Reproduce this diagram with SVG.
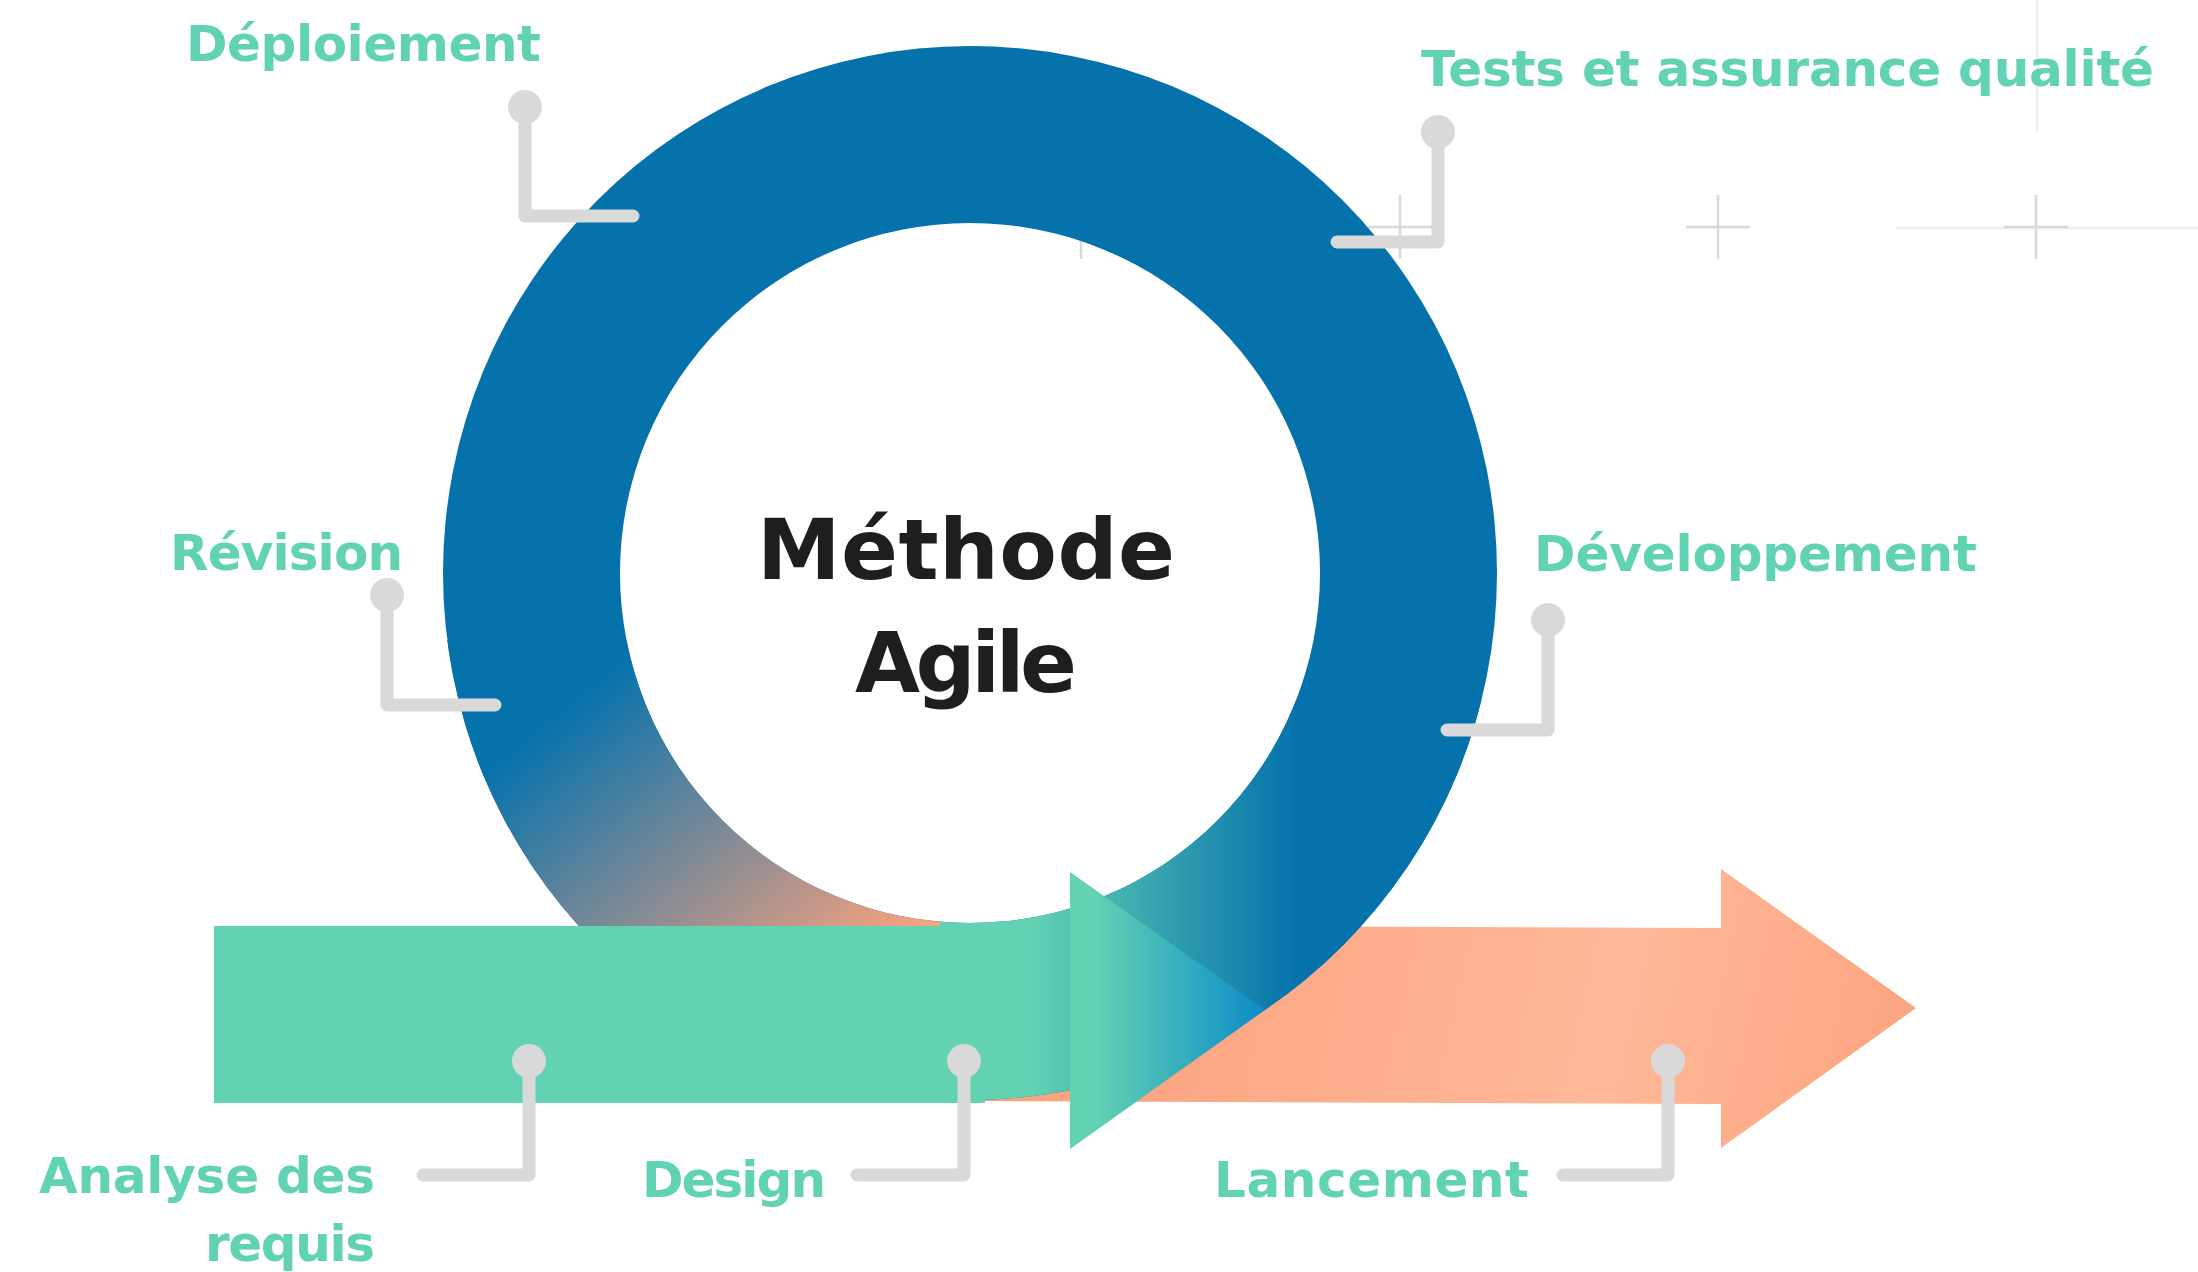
<svg xmlns="http://www.w3.org/2000/svg" width="2198" height="1272" viewBox="0 0 2198 1272">
<style>
.lbl{font-family:"DejaVu Sans","Liberation Sans",sans-serif;font-weight:bold;font-size:50px;fill:#62D3B2}
.ttl{font-family:"DejaVu Sans","Liberation Sans",sans-serif;font-weight:bold;font-size:84px;fill:#1E1E1E}
.cl{fill:none;stroke:#D9D9D9;stroke-width:13;stroke-linecap:round;stroke-linejoin:round}
.dot{fill:#D9D9D9}
.cross{stroke:#D9D9D9;stroke-width:2.5;fill:none}
.faint{stroke:#F1F1F1;stroke-width:3;fill:none}
</style>
<defs>
<linearGradient id="gSalmon" gradientUnits="userSpaceOnUse" x1="533" y1="733" x2="783" y2="1041">
<stop offset="0" stop-color="#0572AC"/><stop offset="1" stop-color="#F9A27E"/>
</linearGradient>
<linearGradient id="gTeal" gradientUnits="userSpaceOnUse" x1="1030" y1="0" x2="1295" y2="0">
<stop offset="0" stop-color="#62D2B2"/><stop offset="1" stop-color="#0572AC"/>
</linearGradient>
<linearGradient id="gTri" gradientUnits="userSpaceOnUse" x1="1095" y1="0" x2="1265" y2="0">
<stop offset="0" stop-color="#62D2B2"/><stop offset="1" stop-color="#0B8CC8"/>
</linearGradient>
<linearGradient id="gOrange" gradientUnits="userSpaceOnUse" x1="1150" y1="930" x2="1916" y2="1100">
<stop offset="0" stop-color="#FCA480"/><stop offset="0.6" stop-color="#FFB999"/><stop offset="1" stop-color="#FCA37F"/>
</linearGradient>
<clipPath id="cLeft"><rect x="0" y="640" width="940" height="660"/></clipPath>
<clipPath id="cRight"><rect x="940" y="700" width="700" height="600"/></clipPath>
<path id="ring" fill-rule="evenodd" d="M443,573a527,527 0 1,0 1054,0a527,527 0 1,0 -1054,0ZM620,573a350,350 0 1,0 700,0a350,350 0 1,0 -700,0Z"/>
</defs>

<g id="background-marks">
<path class="faint" d="M1896,228H2198M2037,0V132"/>
<path class="cross" d="M1049,227H1113M1081,195V259"/>
<path class="cross" d="M1368,227H1432M1400,195V259"/>
<path class="cross" d="M1686,227H1750M1718,195V259"/>
<path class="cross" d="M2004,227H2068M2036,195V259"/>
</g>

<g id="arrow-launch">
<polygon fill="url(#gOrange)" points="960,925 1721,928 1721,869 1916,1008 1721,1148 1721,1104 960,1101"/>
</g>

<g id="cycle-ring">
<use href="#ring" fill="#0572AC"/>
<use href="#ring" fill="url(#gSalmon)" clip-path="url(#cLeft)"/>
<use href="#ring" fill="url(#gTeal)" clip-path="url(#cRight)"/>
</g>

<g id="arrow-start">
<rect x="214" y="926" width="771" height="177" fill="#62D2B2"/>
<polygon fill="url(#gTri)" points="1070,872 1265,1010 1070,1149"/>
</g>

<g id="connectors">
<path class="cl" d="M525,107V216H633"/><circle class="dot" cx="525" cy="107" r="17"/>
<path class="cl" d="M1438,132V242H1337"/><circle class="dot" cx="1438" cy="132" r="17"/>
<path class="cl" d="M1548,620V730H1447"/><circle class="dot" cx="1548" cy="620" r="17"/>
<path class="cl" d="M387,595V705H495"/><circle class="dot" cx="387" cy="595" r="17"/>
<path class="cl" d="M529,1061V1175H423"/><circle class="dot" cx="529" cy="1061" r="17"/>
<path class="cl" d="M964,1061V1175H857"/><circle class="dot" cx="964" cy="1061" r="17"/>
<path class="cl" d="M1668,1061V1175H1563"/><circle class="dot" cx="1668" cy="1061" r="17"/>
</g>

<g id="title">
<text class="ttl" x="757" y="579" textLength="418">Méthode</text>
<text class="ttl" x="855" y="692" textLength="222">Agile</text>
</g>

<g id="label-deploiement"><text class="lbl" x="186" y="61" textLength="355">Déploiement</text></g>
<g id="label-tests"><text class="lbl" x="1421" y="86" textLength="733">Tests et assurance qualité</text></g>
<g id="label-developpement"><text class="lbl" x="1534" y="571" textLength="443">Développement</text></g>
<g id="label-revision"><text class="lbl" x="170" y="570" textLength="233">Révision</text></g>
<g id="label-analyse">
<text class="lbl" x="39" y="1193" textLength="336">Analyse des</text>
<text class="lbl" x="205" y="1261" textLength="170">requis</text>
</g>
<g id="label-design"><text class="lbl" x="642" y="1197" textLength="184">Design</text></g>
<g id="label-lancement"><text class="lbl" x="1214" y="1197" textLength="315">Lancement</text></g>
</svg>
